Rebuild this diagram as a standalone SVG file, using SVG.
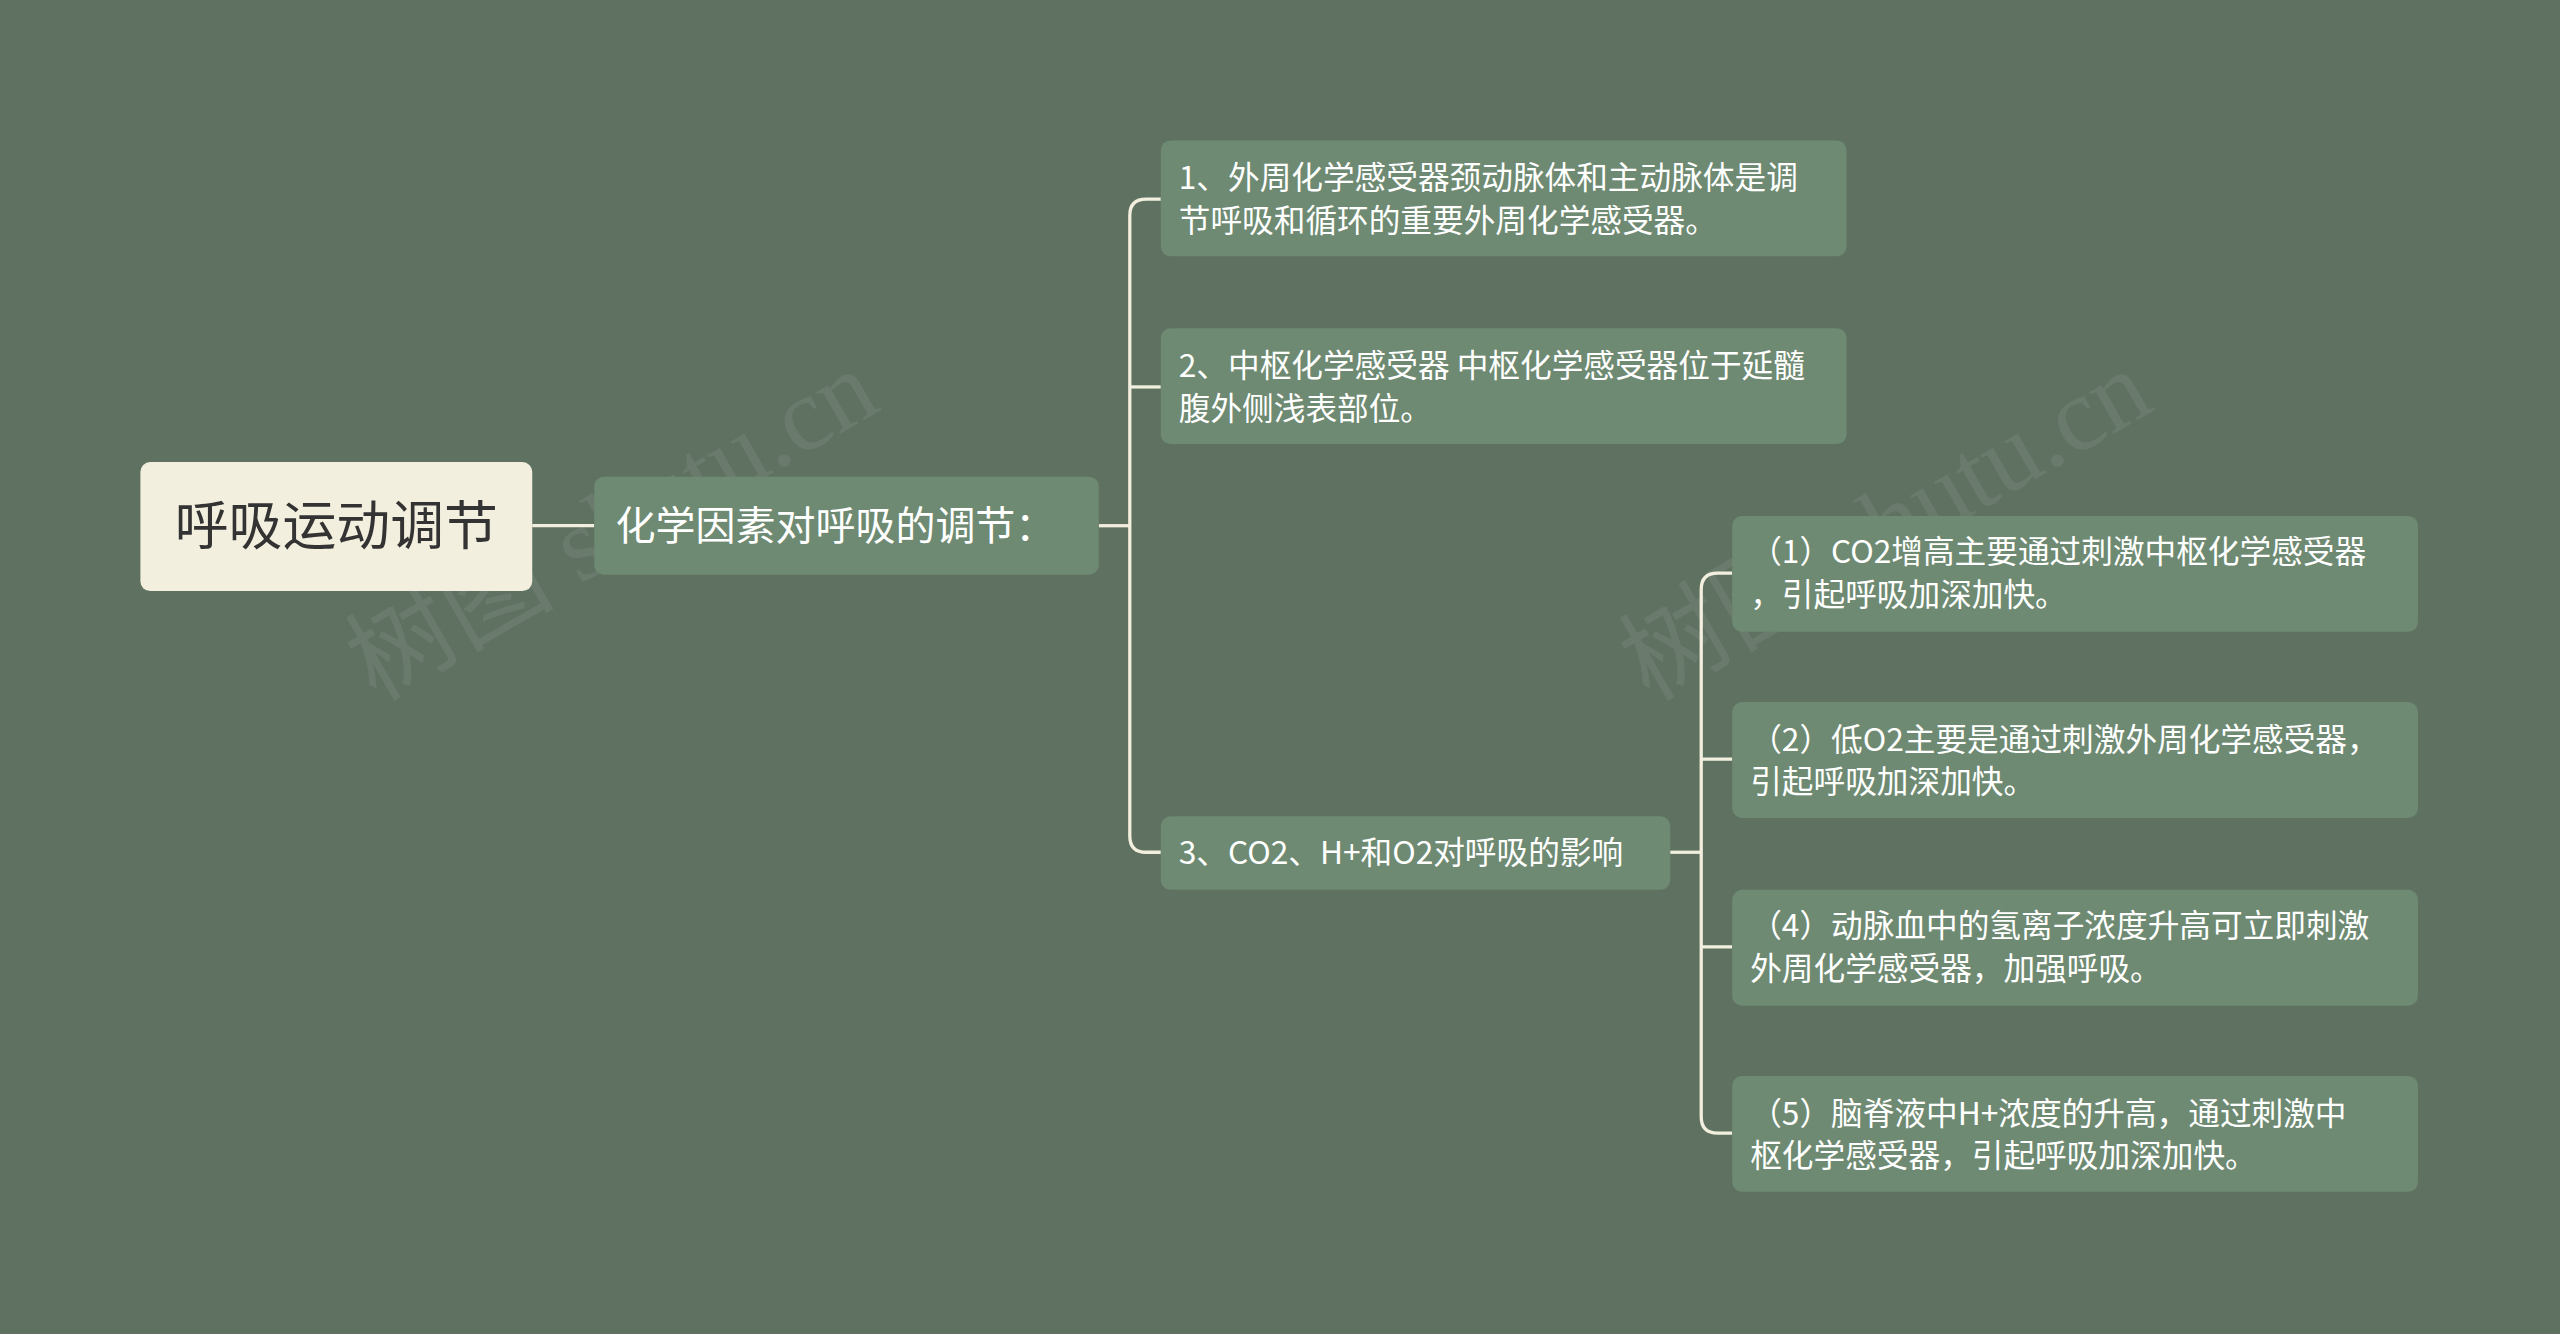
<svg xmlns="http://www.w3.org/2000/svg" width="2560" height="1334" viewBox="0 0 2560 1334">
<style>
.leaf{fill:#6e8a72}
.t{font-family:"Noto Sans CJK SC","Liberation Sans",sans-serif;fill:#ffffff;font-size:19.4px}
.c{fill:none;stroke:#f3efdf;stroke-width:2}
.wm{font-family:"Liberation Serif","Noto Sans CJK SC",serif;font-size:64px;fill:#ffffff;fill-opacity:0.07}
</style>
<rect width="2560" height="1334" fill="#5f7262"/>
<g transform="scale(1.63265)">
<text class="wm" transform="translate(230,430) rotate(-30)">树图 shutu.cn</text>
<text class="wm" transform="translate(1010,430) rotate(-30)">树图 shutu.cn</text>
<g id="connectors">
<path class="c" d="M326,322H364"/>
<path class="c" d="M673,322H692"/>
<path class="c" d="M711,122H702Q692,122 692,132V512Q692,522 702,522H711"/>
<path class="c" d="M692,237H711"/>
<path class="c" d="M1023,522H1042"/>
<path class="c" d="M1061,351H1052Q1042,351 1042,361V684Q1042,694 1052,694H1061"/>
<path class="c" d="M1042,465H1061M1042,580H1061"/>
</g>
<g id="root"><rect x="86" y="283" width="240" height="79" rx="6" fill="#f3efdf"/>
<text x="206" y="334" text-anchor="middle" style="font-family:'Noto Sans CJK SC',sans-serif;font-size:33px;fill:#333">呼吸运动调节</text></g>
<g id="n1"><rect class="leaf" x="364" y="292" width="309" height="60" rx="6"/>
<text class="t" x="377" y="331" style="font-size:24.5px">化学因素对呼吸的调节：</text></g>
<g id="l1"><rect class="leaf" x="711" y="86" width="420" height="71" rx="6"/>
<text class="t" x="722" y="116">1、外周化学感受器颈动脉体和主动脉体是调</text><text class="t" x="722" y="142">节呼吸和循环的重要外周化学感受器。</text></g>
<g id="l2"><rect class="leaf" x="711" y="201" width="420" height="71" rx="6"/>
<text class="t" x="722" y="231">2、中枢化学感受器 中枢化学感受器位于延髓</text><text class="t" x="722" y="257">腹外侧浅表部位。</text></g>
<g id="l3"><rect class="leaf" x="711" y="500" width="312" height="45" rx="6"/>
<text class="t" x="722" y="529">3、CO2、H+和O2对呼吸的影响</text></g>
<g id="r1"><rect class="leaf" x="1061" y="316" width="420" height="71" rx="6"/>
<text class="t" x="1072" y="345">（1）CO2增高主要通过刺激中枢化学感受器</text><text class="t" x="1072" y="371">，引起呼吸加深加快。</text></g>
<g id="r2"><rect class="leaf" x="1061" y="430" width="420" height="71" rx="6"/>
<text class="t" x="1072" y="460">（2）低O2主要是通过刺激外周化学感受器，</text><text class="t" x="1072" y="486">引起呼吸加深加快。</text></g>
<g id="r3"><rect class="leaf" x="1061" y="545" width="420" height="71" rx="6"/>
<text class="t" x="1072" y="574">（4）动脉血中的氢离子浓度升高可立即刺激</text><text class="t" x="1072" y="600">外周化学感受器，加强呼吸。</text></g>
<g id="r4"><rect class="leaf" x="1061" y="659" width="420" height="71" rx="6"/>
<text class="t" x="1072" y="689">（5）脑脊液中H+浓度的升高，通过刺激中</text><text class="t" x="1072" y="715">枢化学感受器，引起呼吸加深加快。</text></g>
</g>
</svg>
